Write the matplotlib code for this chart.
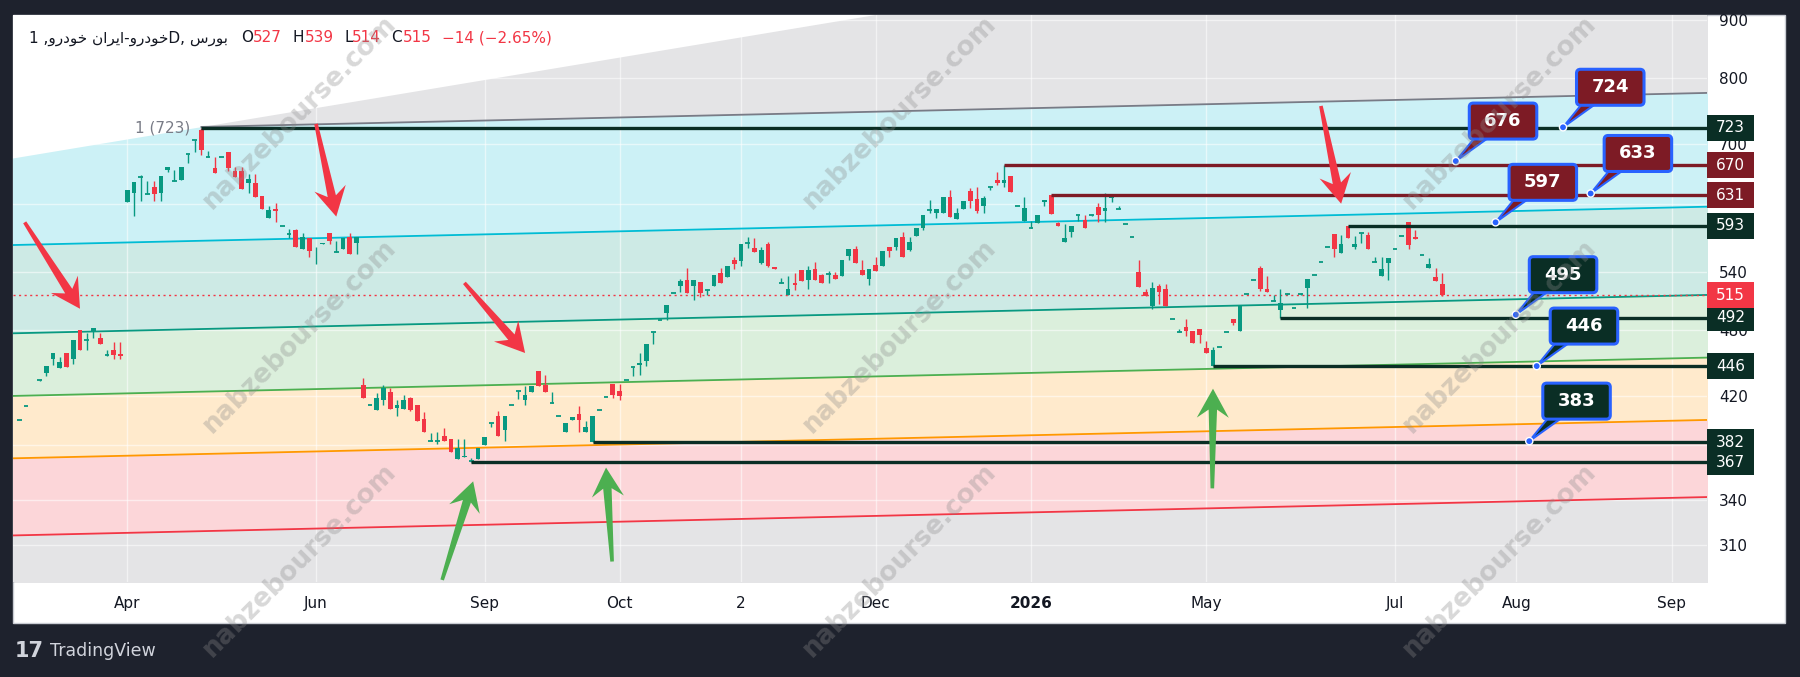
import numpy as np
import matplotlib
matplotlib.use("Agg")
import matplotlib.pyplot as plt
from matplotlib.patches import Rectangle, FancyBboxPatch, Polygon, Circle
from matplotlib.transforms import IdentityTransform
from matplotlib.ticker import NullLocator, NullFormatter

nan = np.nan

# daily candles, one entry per bar
opens = [400, 411, nan, 434, 440, 452, 444, 458, 452, 480,
         470, 479, 472, 456, 461, 457, 622, 633, 655, 632,
         642, 633, 664, 649, 651, 686, 705, 720, 681, 667,
         681, 688, 662, 662, 646, 647, 630, 602, 613, 593,
         583, 588, 565, 578, 565, 571, 584, 562, 566, 580,
         573, 429, 412, 408, 416, 423, 410, 409, 418, 412,
         401, 383, 383, 387, 385, 369, 371, 368, 369, 380,
         397, 403, 392, 412, 424, 416, 423, 442, 429, 414,
         403, 390, 400, 405, 390, 382, 408, 419, 430, 424,
         434, 445, 447, 451, 478, 490, 497, 517, 525, 531,
         525, 529, 520, 525, 539, 534, 553, 552, 572, 567,
         550, 571, 545, 528, 515, 528, 542, 531, 543, 537,
         538, 537, 535, 558, 565, 542, 532, 547, 546, 568,
         568, 579, 564, 581, 590, 612, 609, 609, 628, 601,
         614, 636, 626, 617, 641, 651, 646, 656, 617, 599,
         590, 596, 622, 631, 596, 574, 585, 606, 600, 606,
         616, 611, 627, 613, 595, 579, 540, 518, 504, 525,
         521, 491, 478, 483, 479, 481, 463, 446, 464, 478,
         491, 479, 516, 531, 544, 522, 509, 500, 516, 502,
         516, 523, 536, 551, 568, 583, 561, 593, 568, 584,
         582, 551, 535, 550, 565, 581, 597, 580, 559, 544,
         534, 527]
highs = [400, 411, nan, 434, 446, 458, 454, 458, 470, 480,
         477, 482, 477, 461, 468, 468, 638, 648, 657, 649,
         649, 656, 668, 664, 668, 686, 705, 723, 690, 681,
         681, 688, 668, 668, 659, 658, 630, 617, 621, 593,
         589, 589, 584, 578, 568, 573, 584, 575, 578, 584,
         580, 435, 412, 422, 429, 427, 416, 421, 419, 412,
         406, 389, 390, 393, 385, 385, 385, 370, 378, 386,
         397, 407, 403, 412, 424, 428, 428, 442, 438, 423,
         403, 397, 402, 411, 399, 403, 408, 419, 430, 430,
         434, 445, 458, 466, 478, 490, 505, 517, 532, 544,
         531, 529, 522, 537, 544, 546, 557, 571, 579, 578,
         568, 574, 545, 533, 535, 539, 542, 546, 551, 538,
         541, 540, 553, 565, 569, 553, 543, 556, 563, 568,
         578, 585, 579, 590, 606, 625, 614, 628, 638, 615,
         624, 640, 641, 630, 641, 661, 670, 656, 617, 628,
         599, 606, 625, 631, 598, 595, 593, 606, 606, 606,
         621, 633, 629, 617, 595, 579, 553, 522, 529, 527,
         527, 491, 481, 491, 479, 481, 469, 464, 464, 478,
         491, 505, 516, 531, 546, 535, 515, 521, 517, 502,
         517, 532, 536, 551, 568, 583, 582, 593, 581, 584,
         585, 556, 557, 555, 565, 581, 597, 588, 559, 555,
         544, 539]
lows = [400, 411, nan, 433, 437, 447, 444, 445, 448, 461,
        461, 472, 466, 455, 452, 452, 622, 605, 624, 632,
        624, 624, 661, 649, 651, 673, 689, 684, 681, 660,
        681, 662, 654, 639, 634, 628, 614, 602, 598, 593,
        578, 568, 565, 557, 549, 571, 571, 562, 566, 560,
        560, 418, 412, 408, 412, 409, 403, 409, 407, 399,
        390, 383, 381, 383, 375, 369, 371, 367, 369, 380,
        394, 387, 383, 412, 417, 412, 423, 428, 423, 414,
        403, 390, 400, 390, 390, 382, 408, 419, 418, 416,
        434, 437, 438, 446, 466, 490, 490, 517, 518, 517,
        510, 513, 515, 525, 528, 534, 543, 546, 567, 562,
        549, 545, 543, 528, 515, 520, 530, 522, 531, 528,
        528, 532, 535, 553, 550, 537, 526, 541, 546, 556,
        564, 557, 563, 581, 588, 609, 602, 609, 604, 601,
        614, 615, 609, 608, 638, 644, 641, 635, 617, 599,
        590, 596, 617, 607, 592, 574, 579, 599, 590, 605,
        597, 597, 622, 613, 595, 579, 524, 514, 501, 506,
        504, 491, 478, 474, 467, 467, 458, 446, 464, 478,
        485, 479, 516, 531, 519, 518, 509, 492, 515, 502,
        515, 502, 536, 551, 568, 556, 561, 578, 566, 572,
        566, 551, 535, 531, 565, 581, 565, 577, 559, 544,
        530, 514]
closes = [400, 411, nan, 434, 446, 458, 450, 445, 470, 461,
          470, 482, 466, 456, 456, 455, 638, 648, 655, 632,
          632, 656, 668, 649, 668, 686, 705, 691, 681, 660,
          681, 667, 654, 639, 652, 628, 614, 612, 611, 593,
          583, 568, 579, 563, 566, 573, 575, 562, 578, 560,
          580, 418, 412, 418, 427, 409, 412, 416, 408, 399,
          390, 383, 383, 383, 375, 378, 372, 368, 378, 386,
          397, 387, 403, 412, 424, 421, 428, 428, 423, 414,
          403, 397, 402, 400, 394, 403, 408, 419, 421, 420,
          434, 445, 449, 466, 478, 490, 505, 517, 530, 517,
          531, 517, 520, 537, 528, 546, 549, 571, 572, 562,
          564, 546, 543, 528, 522, 526, 530, 542, 531, 528,
          538, 532, 553, 565, 550, 537, 543, 541, 563, 563,
          578, 557, 574, 590, 606, 612, 614, 628, 604, 609,
          624, 623, 611, 627, 641, 647, 651, 635, 617, 615,
          590, 606, 625, 607, 592, 578, 593, 606, 590, 606,
          606, 615, 629, 613, 595, 579, 524, 514, 523, 518,
          504, 491, 478, 479, 467, 475, 458, 461, 464, 478,
          487, 505, 516, 531, 521, 518, 509, 507, 516, 502,
          516, 532, 536, 551, 568, 566, 571, 578, 571, 584,
          566, 551, 543, 555, 565, 581, 570, 577, 559, 549,
          530, 515]

# time axis labels (bar index of each label)
xtick_pos = [16, 44, 69, 89, 107, 127, 150, 176, 204, 222, 245]
xtick_lab = ['Apr', 'Jun', 'Sep', 'Oct', '2', 'Dec', '2026', 'May', 'Jul', 'Aug', 'Sep']
# price grid; the labels of 620 and 380 sit under the level boxes
ygrid_vals = [900, 800, 700, 620, 540, 480, 420, 380, 340, 310]
ytick_vals = [900, 800, 700, 540, 480, 420, 340, 310]

# fib channel: price of each level at bar 0 and bar 250
chan_bars = [0, 250]
line_one = [718.5, 776.2]
line_cyan = [570.3, 616.2]
line_teal = [476.8, 515.2]
line_green = [419.9, 453.7]
line_orange = [370.0, 399.8]
line_red = [316.4, 341.9]
edge_bars = [0, 127]
edge_prices = [681, 909.2]
anchor_bar, anchor_price = 27, 723

# horizontal levels
level_prices = [723, 670, 631, 593, 492, 446, 382, 367]
level_start = [27, 146, 153, 197, 187, 177, 85, 67]
level_kind = ['g', 'r', 'r', 'g', 'g', 'g', 'g', 'g']
last_price = 515

# callouts (value, bar of the pointer)
callout_vals = [724, 676, 633, 597, 495, 446, 383]
callout_bars = [228.9, 213.0, 233.0, 218.9, 221.9, 225.0, 223.9]
callout_kind = ['r', 'r', 'r', 'r', 'g', 'g', 'g']

# hand drawn arrows: (tail bar, tail price, head bar, head price)
red_arrows = [(0.8, 597, 9.0, 501), (44.0, 729, 47.0, 604),
              (66.0, 528, 75.0, 458), (193.0, 756, 196.0, 620)]
green_arrows = [(62.7, 289, 67.3, 353), (87.9, 300, 87.0, 363),
                (176.9, 348, 177.0, 426)]

UP, DOWN = '#089981', '#f23645'
DARK_G, DARK_R = '#0a2e25', '#7d1b25'
BLUE = '#2962ff'
TXT = '#131722'

W, H = 1800, 677
fig = plt.figure(figsize=(18, 6.77), dpi=100, facecolor='#1e222d')
fig.add_artist(Rectangle((13 / W, (H - 623) / H), (1785 - 13) / W, (623 - 15) / H,
                         transform=fig.transFigure, facecolor='white',
                         edgecolor='#c9ccd3', lw=1, zorder=-10))
ax = fig.add_axes([13 / W, (H - 582) / H, 1694 / W, 567 / H])
ax.set_facecolor('white')
ax.set_yscale('log')
xlo, xhi = -0.934, 250.25
ylo, yhi = 287.8, 909.2
ax.set_xlim(xlo, xhi)
ax.set_ylim(ylo, yhi)
for s in ax.spines.values():
    s.set_visible(False)


def along(vals, x, bars=chan_bars):
    k = (np.log(vals[1]) - np.log(vals[0])) / (bars[1] - bars[0])
    return np.exp(np.log(vals[0]) + k * (np.asarray(x, dtype=float) - bars[0]))


xs = np.array([xlo - 1, xhi + 1])
bounds = [line_one, line_cyan, line_teal, line_green, line_orange, line_red]
line_cols = ['#787b86', '#00bcd4', '#089981', '#4caf50', '#ff9800', '#f23645']
ax.fill_between(xs, along(line_one, xs), 1000, color='#787b86', alpha=0.2, lw=0, zorder=1)
for i in range(5):
    ax.fill_between(xs, along(bounds[i + 1], xs), along(bounds[i], xs),
                    color=line_cols[i + 1], alpha=0.2, lw=0, zorder=1)
ax.fill_between(xs, 250, along(line_red, xs), color='#787b86', alpha=0.2, lw=0, zorder=1)
ex = [xlo - 1, 140]
ey = along(edge_prices, ex, edge_bars)
ax.fill([ex[0], ex[1], ex[0]], [ey[0], ey[1], ey[1]], color='white', lw=0, zorder=1.5)

# grid
for t in xtick_pos:
    ax.axvline(t, color='white', alpha=0.55, lw=1, zorder=2)
for p in ygrid_vals:
    ax.axhline(p, color='white', alpha=0.55, lw=1, zorder=2)

# channel lines
ax.plot([anchor_bar, xs[1]], along(line_one, [anchor_bar, xs[1]]), color=line_cols[0], lw=1.3, zorder=3)
for vals, col in zip(bounds[1:], line_cols[1:]):
    ax.plot(xs, along(vals, xs), color=col, lw=1.3, zorder=3)
ax.text(anchor_bar - 1.6, anchor_price, '1 (723)', color='#787b86', fontsize=11,
        ha='right', va='center', zorder=3)
ax.axhline(last_price, color='#f23645', lw=1, ls=(0, (1.5, 2.5)), zorder=3.5)

# candles
o, h, l, c = (np.array(a, dtype=float) for a in (opens, highs, lows, closes))
x = np.arange(len(o))
ok = ~np.isnan(o)
col = np.where(c >= o, UP, DOWN)
ax.vlines(x[ok], l[ok], h[ok], colors=col[ok], lw=1, zorder=4)
body = ok & (np.abs(c - o) > 0.5)
ax.bar(x[body], np.abs(c - o)[body], bottom=np.minimum(o, c)[body], width=0.7,
       color=col[body], lw=0, zorder=4.1)
doji = ok & ~body
ax.hlines(o[doji], x[doji] - 0.35, x[doji] + 0.35, colors=col[doji], lw=1.3, zorder=4.1)

# horizontal levels
for p, s, k in zip(level_prices, level_start, level_kind):
    ax.hlines(p, s, xhi, color=DARK_G if k == 'g' else DARK_R, lw=2.4, zorder=5)

# axes ticks
ax.yaxis.tick_right()
ax.set_yticks(ytick_vals)
ax.set_yticklabels([str(v) for v in ytick_vals])
ax.yaxis.set_minor_locator(NullLocator())
ax.yaxis.set_minor_formatter(NullFormatter())
ax.tick_params(axis='y', length=0, pad=8.6, labelsize=11, labelcolor=TXT)
ax.set_xticks(xtick_pos)
ax.set_xticklabels(xtick_lab)
ax.tick_params(axis='x', length=0, pad=10, labelsize=11, labelcolor=TXT)
for lbl in ax.get_xticklabels():
    if lbl.get_text() == '2026':
        lbl.set_fontweight('bold')

ID = IdentityTransform()


def disp(bx, p):
    return ax.transData.transform((bx, p))


# price axis labels
ax_right = ax.transAxes.transform((1, 0))[0]
for p, k in list(zip(level_prices, level_kind)) + [(last_price, 'last')]:
    fc = {'g': DARK_G, 'r': DARK_R, 'last': '#f23645'}[k]
    yd = disp(0, p)[1]
    fig.add_artist(Rectangle((ax_right, yd - 13), 47, 26, transform=ID, fc=fc, ec='none', zorder=20))
    fig.text(ax_right + 23.5, yd, str(p), transform=ID, color='white', fontsize=11,
             ha='center', va='center', zorder=21)

# callouts
for v, b, k in zip(callout_vals, callout_bars, callout_kind):
    fc = DARK_R if k == 'r' else DARK_G
    dx, dy = disp(b, v)
    left, bottom = dx + 13.5, dy + 22
    fig.add_artist(Polygon([(dx, dy), (left + 6, bottom + 2), (left + 20, bottom + 2)], closed=True,
                           transform=ID, fc=fc, ec=BLUE, lw=1.5, zorder=22))
    fig.add_artist(FancyBboxPatch((left, bottom), 67.5, 36, boxstyle='round,pad=0,rounding_size=4',
                                  transform=ID, fc=fc, ec=BLUE, lw=2.2, zorder=23))
    fig.text(left + 33.75, bottom + 18, str(v), transform=ID, color='white', fontsize=13,
             fontweight='bold', ha='center', va='center', zorder=24)
    fig.add_artist(Circle((dx, dy), 3.6, transform=ID, fc=BLUE, ec='white', lw=1, zorder=25))


# arrows
def arrow(tb, tp, hb, hp, color):
    t = np.array(disp(tb, tp))
    hd = np.array(disp(hb, hp))
    u = (hd - t) / np.hypot(*(hd - t))
    n = np.array([-u[1], u[0]])
    hl, hw = 29, 16
    wing = hd - u * hl
    join = hd - u * hl * 0.72
    pts = [t + n * 1.8, join + n * 4.2, wing + n * hw, hd, wing - n * hw, join - n * 4.2, t - n * 1.8]
    fig.add_artist(Polygon(pts, closed=True, transform=ID, fc=color, ec='none', zorder=18))


for a in red_arrows:
    arrow(*a, '#f23645')
for a in green_arrows:
    arrow(*a, '#4caf50')

# header legend
fa_khodro = '\ufeed\ufead\ufea9\ufeee\ufea7'
fa_iran = '\ufee5\ufe8d\ufeae\ufef3\ufe8d'
fa_bourse = '\ufeb1\ufead\ufeee\ufe91'
hy = H - 38
fig.text(29, hy, '1 ,' + fa_khodro + ' ' + fa_iran + '-' + fa_khodro + 'D, ' + fa_bourse,
         transform=ID, color=TXT, fontsize=11, va='center', zorder=30)
for lab, xl, val, xv in [('O', 241, '527', 253), ('H', 293, '539', 305),
                         ('L', 344, '514', 352), ('C', 391, '515', 403)]:
    fig.text(xl, hy, lab, transform=ID, color=TXT, fontsize=11, va='center', zorder=30)
    fig.text(xv, hy, val, transform=ID, color='#f23645', fontsize=11, va='center', zorder=30)
fig.text(442, hy, '\u221214 (\u22122.65%)', transform=ID, color='#f23645', fontsize=11,
         va='center', zorder=30)

# footer logo
fig.text(15, H - 651, '17', transform=ID, color='#d1d4dc', fontsize=15, fontweight='bold',
         va='center', zorder=30)
fig.text(50, H - 651, 'TradingView', transform=ID, color='#d1d4dc', fontsize=12.5,
         va='center', zorder=30)

# watermark
for cx in (300, 900, 1500):
    for cy in (112, 336, 560):
        fig.text(cx, H - cy, 'nabzebourse.com', transform=ID, color='#8a8a8a', alpha=0.33,
                 fontsize=19, fontweight='bold', rotation=45, rotation_mode='anchor',
                 ha='center', va='center', zorder=40)

fig.savefig('out.png', dpi=100, facecolor=fig.get_facecolor())
